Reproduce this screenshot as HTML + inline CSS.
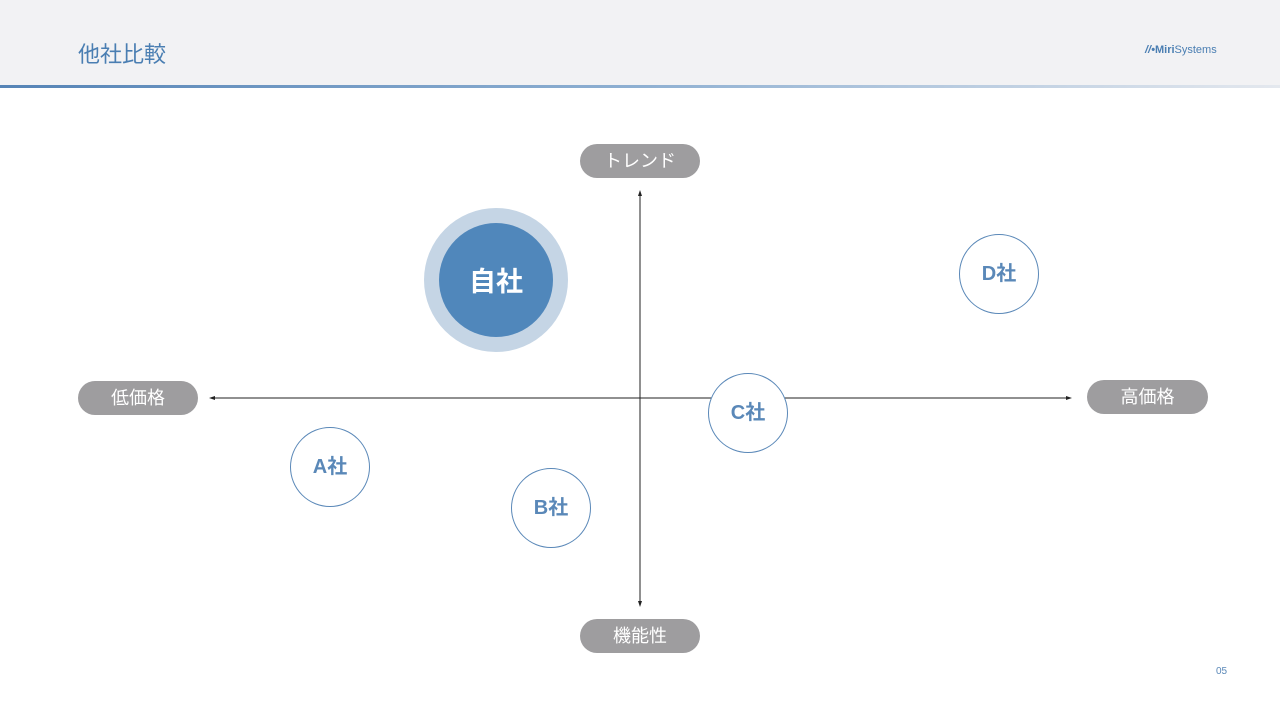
<!DOCTYPE html>
<html><head><meta charset="utf-8"><style>
body{margin:0;width:1280px;height:720px;background:#fff;position:relative;overflow:hidden;font-family:"Liberation Sans","Noto Sans CJK JP",sans-serif}
.hdr{position:absolute;left:0;top:0;width:1280px;height:86px;background:#f2f2f4}
.line{position:absolute;left:0;top:85px;width:1280px;height:3px;background:linear-gradient(90deg,#5684b6 0%,#8fb0d2 50%,#e4e8ee 100%)}
.title{position:absolute;left:78px;top:37px;font-size:22px;color:#4a7eb2}
.logo{position:absolute;left:1145px;top:44px;font-size:11px;color:#4a7eb2}
.pill{position:absolute;background:#9e9d9f;color:#fff;border-radius:17px;height:34px;line-height:34px;text-align:center;font-size:18px}
.c{position:absolute;border:1.5px solid #5a88b8;border-radius:50%;width:80px;height:80px;box-sizing:border-box;color:#5a88b8;font-size:20px;font-weight:bold;text-align:center;line-height:78px;background:#fff}
</style></head><body>
<div class="hdr"></div><div class="line"></div>
<div class="title">他社比較</div>
<div class="logo"><b style="font-style:italic">//•</b><b>Miri</b>Systems</div>
<svg style="position:absolute;left:0;top:0" width="1280" height="720">
<line x1="640" y1="192" x2="640" y2="605" stroke="#222" stroke-width="1"/>
<line x1="211" y1="398" x2="1070" y2="398" stroke="#222" stroke-width="1"/>
<polygon points="640,190 638,196 642,196" fill="#222"/>
<polygon points="640,607 638,601 642,601" fill="#222"/>
<polygon points="209,398 215,396 215,400" fill="#222"/>
<polygon points="1072,398 1066,396 1066,400" fill="#222"/>
<circle cx="496" cy="280" r="72" fill="#c5d5e5"/>
<circle cx="496" cy="280" r="57" fill="#5087bb"/>
<text x="496" y="291" font-size="27" font-weight="bold" fill="#fff" text-anchor="middle" font-family="Liberation Sans,Noto Sans CJK JP,sans-serif">自社</text>
</svg>
<div class="pill" style="left:580px;top:144px;width:120px">トレンド</div>
<div class="pill" style="left:580px;top:619px;width:120px">機能性</div>
<div class="pill" style="left:78px;top:381px;width:120px">低価格</div>
<div class="pill" style="left:1087px;top:380px;width:121px">高価格</div>
<div class="c" style="left:959px;top:234px">D社</div>
<div class="c" style="left:708px;top:373px">C社</div>
<div class="c" style="left:290px;top:427px">A社</div>
<div class="c" style="left:511px;top:468px">B社</div>
<div style="position:absolute;left:1216px;top:666px;font-size:10px;color:#5a88b8">05</div>
</body></html>
